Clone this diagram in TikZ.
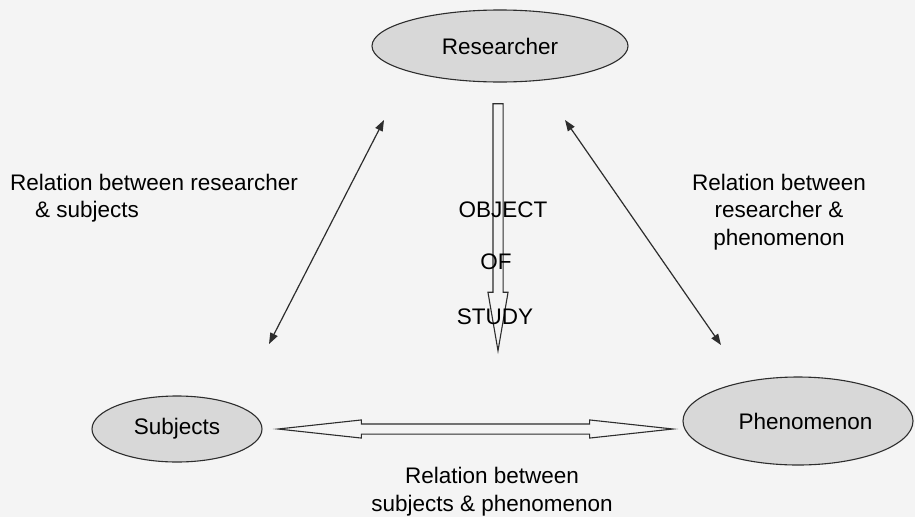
\documentclass[tikz,border=0pt]{standalone}
\usepackage{fontspec}
\setmainfont{Liberation Sans}
\usetikzlibrary{shapes.geometric, shapes.arrows, arrows.meta, positioning}

\definecolor{paper}{RGB}{244,244,244}
\definecolor{blobfill}{RGB}{216,216,216}
\definecolor{ink}{RGB}{45,45,45}

\begin{document}
\begin{tikzpicture}[x=1pt, y=-1pt, font=\fontsize{22.5}{27.5}\selectfont,
  blob/.style={ellipse, draw=ink, fill=blobfill, line width=1.1pt, inner sep=0pt},
  link/.style={{Triangle[length=11pt,width=8pt]}-{Triangle[length=11pt,width=8pt]}, line width=1.2pt, draw=ink},
  hollow/.style={draw=ink, line width=1.1pt, inner sep=4.5pt}]
	\fill[paper] (0,0) rectangle (915,517);
	\useasboundingbox (0,0) rectangle (915,517);

	\node[blob, minimum width=256pt, minimum height=72pt] (res) at (500,46) {Researcher};
	\node[blob, minimum width=170pt, minimum height=66pt] (subj) at (177,429) {Subjects};
	\node[blob, minimum width=230pt, minimum height=88pt] (phen) at (798,421) {\hspace*{15pt}Phenomenon};

	\node[hollow, single arrow, shape border rotate=270, minimum height=247pt,
	  single arrow head extend=5pt, single arrow tip angle=19.5, anchor=tip] (study) at (498,354) {};
	\node[hollow, double arrow, minimum height=395pt,
	  double arrow head extend=4pt, double arrow tip angle=12.4] (mutual) at (475.5,429) {};

	\coordinate (lefttop) at (384,120);
	\coordinate (leftbot) at (269,344);
	\coordinate (righttop) at (565,120);
	\coordinate (rightbot) at (721,345);
	\draw[link] (leftbot) -- (lefttop);
	\draw[link] (righttop) -- (rightbot);

	\node (obj) at (503,210) {OBJECT};
	\node (of) at (496,262) {OF};
	\node (stu) at (495,317) {STUDY};

	\node[anchor=west, align=left, inner sep=0pt] (lblrs) at (10,198) {Relation between researcher\\\hspace*{25pt}\& subjects};
	\node[align=center, inner sep=0pt] (lblrp) at (779,212) {Relation between\\researcher \&\\phenomenon};
	\node[align=center, inner sep=0pt] (lblsp) at (492,491.5) {Relation between\\subjects \& phenomenon};
\end{tikzpicture}
\end{document}
